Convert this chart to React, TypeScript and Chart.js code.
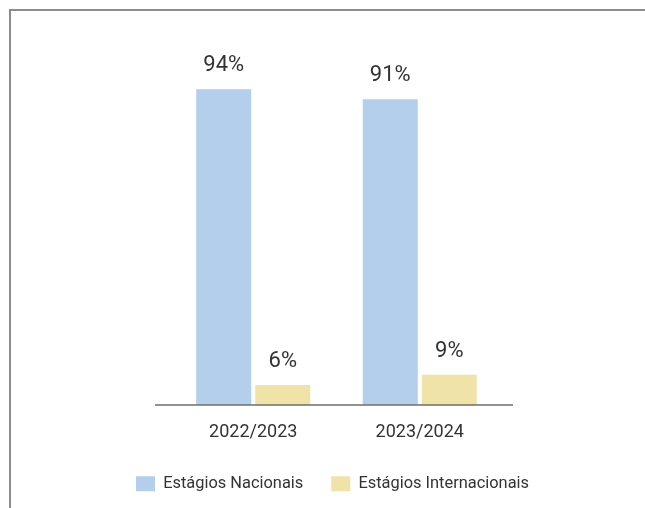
import React, { useEffect, useRef } from "react";
import { Chart, registerables } from "chart.js";

Chart.register(...registerables);

const categories = ["2022/2023", "2023/2024"];
const seriesNames = ["Estágios Nacionais", "Estágios Internacionais"];
const nacionais = [94, 91];
const internacionais = [6, 9];
const colors = ["#b3cfeb", "#f0e3a8"];

const FONT = "Roboto, 'Noto Sans', sans-serif";
const TEXT = "#333333";

const barLabels = {
  id: "barLabels",
  afterDatasetsDraw(chart: any) {
    const ctx = chart.ctx;
    ctx.save();
    ctx.font = `22px ${FONT}`;
    ctx.fillStyle = TEXT;
    ctx.textAlign = "center";
    ctx.textBaseline = "middle";
    chart.data.datasets.forEach((ds: any, i: number) => {
      const meta = chart.getDatasetMeta(i);
      meta.data.forEach((el: any, j: number) => {
        ctx.fillText(`${ds.data[j]}%`, el.x, el.y - 23.5);
      });
    });
    ctx.restore();
  },
};

const baseline = {
  id: "baseline",
  afterDatasetsDraw(chart: any) {
    const { ctx, chartArea } = chart;
    ctx.save();
    ctx.strokeStyle = "#6e6e6e";
    ctx.lineWidth = 1.5;
    ctx.beginPath();
    ctx.moveTo(chartArea.left - 15, chartArea.bottom);
    ctx.lineTo(chartArea.right + 10, chartArea.bottom);
    ctx.stroke();
    ctx.restore();
  },
};

export default function App() {
  const ref = useRef<HTMLCanvasElement>(null);
  useEffect(() => {
    if (!ref.current) return;
    const chart = new Chart(ref.current, {
      type: "bar",
      data: {
        labels: categories,
        datasets: [
          {
            label: seriesNames[0],
            data: nacionais,
            backgroundColor: colors[0],
            categoryPercentage: 0.709,
            barPercentage: 0.932,
          },
          {
            label: seriesNames[1],
            data: internacionais,
            backgroundColor: colors[1],
            categoryPercentage: 0.709,
            barPercentage: 0.932,
          },
        ],
      },
      options: {
        responsive: false,
        animation: false,
        devicePixelRatio: 1,
        layout: { padding: { left: 20, right: 0, top: 69, bottom: 6 } },
        plugins: {
          tooltip: { enabled: false },
          legend: {
            position: "bottom",
            labels: {
              boxWidth: 19,
              boxHeight: 15,
              padding: 28,
              color: TEXT,
              font: { family: FONT, size: 16.4 },
            },
          },
        },
        scales: {
          x: {
            grid: { display: false },
            border: { display: false },
            ticks: { color: TEXT, font: { family: FONT, size: 18 }, padding: 9 },
            afterFit: (s: any) => {
              s.height = 42.5;
            },
          },
          y: {
            min: 0,
            max: 100,
            grid: { display: false },
            border: { display: false },
            ticks: { display: false },
            afterFit: (s: any) => {
              s.width = 150;
            },
          },
          y2: {
            position: "right",
            min: 0,
            max: 100,
            grid: { display: false },
            border: { display: false },
            ticks: { display: false },
            afterFit: (s: any) => {
              s.width = 142;
            },
          },
        },
      },
      plugins: [barLabels, baseline],
    } as any);
    return () => chart.destroy();
  }, []);

  return (
    <>
      <div
        style={{
          position: "fixed",
          top: 9,
          left: 9,
          right: 0,
          bottom: 0,
          borderTop: "2px solid #8c8c8c",
          borderLeft: "2px solid #8c8c8c",
        }}
      />
      <canvas
        ref={ref}
        width={645}
        height={508}
        style={{ position: "fixed", top: 0, left: 0, width: 645, height: 508 }}
      />
    </>
  );
}
